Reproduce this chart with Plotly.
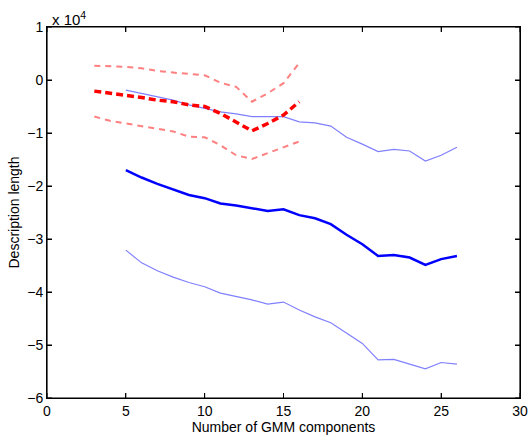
import plotly.graph_objects as go

# values in units of 10^4
x_red = list(range(3, 17))
red_mean = [-0.21, -0.25, -0.28, -0.33, -0.38, -0.41, -0.47, -0.50, -0.63, -0.79, -0.96, -0.82, -0.66, -0.41]
red_upper = [0.27, 0.26, 0.25, 0.22, 0.17, 0.14, 0.11, 0.09, -0.05, -0.13, -0.41, -0.25, -0.06, 0.32]
red_lower = [-0.69, -0.77, -0.82, -0.87, -0.91, -0.97, -1.07, -1.08, -1.23, -1.42, -1.49, -1.38, -1.26, -1.16]

x_blue = list(range(5, 27))
blue_mean = [-1.70, -1.84, -1.96, -2.06, -2.17, -2.23, -2.33, -2.37, -2.42, -2.47, -2.44,
             -2.55, -2.61, -2.72, -2.92, -3.10, -3.32, -3.30, -3.35, -3.49, -3.38, -3.32]
blue_upper = [-0.19, -0.25, -0.31, -0.38, -0.47, -0.53, -0.60, -0.64, -0.69, -0.69, -0.69,
              -0.79, -0.81, -0.87, -1.08, -1.21, -1.35, -1.31, -1.34, -1.53, -1.42, -1.27]
blue_lower = [-3.21, -3.45, -3.60, -3.72, -3.82, -3.90, -4.02, -4.08, -4.15, -4.23, -4.19,
              -4.34, -4.47, -4.58, -4.77, -4.97, -5.28, -5.27, -5.36, -5.45, -5.33, -5.36]

x_ticks = [0, 5, 10, 15, 20, 25, 30]
y_ticks = [1, 0, -1, -2, -3, -4, -5, -6]

FONT = "Liberation Sans, Arial, Helvetica"

fig = go.Figure()
fig.add_trace(go.Scatter(x=x_blue, y=blue_upper, mode="lines",
                         line=dict(color="#8080ff", width=1.2)))
fig.add_trace(go.Scatter(x=x_blue, y=blue_lower, mode="lines",
                         line=dict(color="#8080ff", width=1.2)))
fig.add_trace(go.Scatter(x=x_blue, y=blue_mean, mode="lines",
                         line=dict(color="#0000ff", width=2.5)))
fig.add_trace(go.Scatter(x=x_red, y=red_upper, mode="lines",
                         line=dict(color="#ff8080", width=2, dash="6px,5px")))
fig.add_trace(go.Scatter(x=x_red, y=red_lower, mode="lines",
                         line=dict(color="#ff8080", width=2, dash="6px,5px")))
fig.add_trace(go.Scatter(x=x_red, y=red_mean, mode="lines",
                         line=dict(color="#ff0000", width=3.5, dash="7px,4px")))

axis_common = dict(showline=True, linecolor="#000000", linewidth=1, mirror="ticks",
                   ticks="inside", ticklen=5, tickcolor="#000000", tickwidth=1,
                   showgrid=False, zeroline=False, automargin=False, layer="above traces",
                   tickfont=dict(family=FONT, size=14, color="black"))

fig.update_xaxes(range=[0, 30], tickvals=x_ticks,
                 title=dict(text="Number of GMM components", standoff=2,
                            font=dict(family=FONT, size=14, color="black")),
                 **axis_common)
fig.update_yaxes(range=[-6, 1], tickvals=y_ticks,
                 title=dict(text="Description length", standoff=4,
                            font=dict(family=FONT, size=14, color="black")),
                 **axis_common)

# frame and inside ticks (drawn as shapes as well, so they always show)
shapes = [dict(type="rect", xref="paper", yref="paper", x0=0, x1=1, y0=0, y1=1,
               line=dict(color="black", width=1.2), layer="above")]
for t in x_ticks:
    shapes.append(dict(type="line", xref="x", yref="paper", x0=t, x1=t,
                       ysizemode="pixel", yanchor=0, y0=0, y1=5,
                       line=dict(color="black", width=1)))
    shapes.append(dict(type="line", xref="x", yref="paper", x0=t, x1=t,
                       ysizemode="pixel", yanchor=1, y0=0, y1=-5,
                       line=dict(color="black", width=1)))
for t in y_ticks:
    shapes.append(dict(type="line", xref="paper", yref="y", y0=t, y1=t,
                       xsizemode="pixel", xanchor=0, x0=0, x1=5,
                       line=dict(color="black", width=1)))
    shapes.append(dict(type="line", xref="paper", yref="y", y0=t, y1=t,
                       xsizemode="pixel", xanchor=1, x0=0, x1=-5,
                       line=dict(color="black", width=1)))

fig.add_annotation(x=0, y=1, xref="x", yref="y", xanchor="left", yanchor="bottom",
                   text="x 10<sup>4</sup>", showarrow=False, xshift=3, yshift=-3,
                   font=dict(family=FONT, size=15, color="black"))

fig.update_layout(width=529, height=438, showlegend=False, shapes=shapes,
                  plot_bgcolor="white", paper_bgcolor="white",
                  margin=dict(l=47, r=9, t=27, b=40, autoexpand=False))

fig.write_html("out.html", config={"displayModeBar": False},
               post_script="document.body.style.margin='0';document.body.style.overflow='hidden';")
